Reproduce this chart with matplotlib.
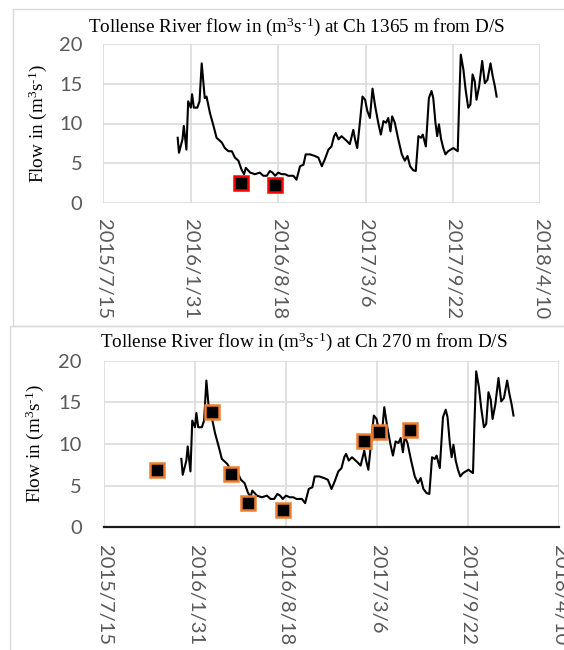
import matplotlib
matplotlib.use("Agg")
import matplotlib.pyplot as plt
from matplotlib.patches import Rectangle
import pandas as pd

# Daily river flow record (days after series_start, m3/s)
series_start = "2016-01-01"
flow_day = [0, 3, 11, 14, 20, 24, 30, 33, 37, 45, 50, 55, 59, 62, 66, 74, 82, 89,
            101, 108, 116, 124, 131, 139, 146, 152, 156, 166, 177, 188, 196, 204,
            211, 217, 223, 230, 238, 246, 253, 265, 272, 280, 288, 293, 303, 314,
            322, 330, 337, 345, 352, 358, 362, 368, 375, 379, 387, 394, 402, 406,
            411, 417, 423, 429, 434, 440, 446, 452, 459, 465, 471, 477, 482, 487,
            491, 497, 505, 513, 520, 526, 532, 539, 545, 551, 557, 561, 568, 575,
            581, 585, 590, 594, 598, 603, 608, 613, 619, 625, 631, 636, 641, 644,
            648, 654, 659, 665, 670, 675, 680, 684, 690, 697, 703, 709, 716, 721,
            726, 730]
flow_value = [8.2, 6.3, 8.0, 9.7, 6.7, 12.8, 12.0, 13.7, 12.0, 12.0, 12.8, 17.6,
              15.1, 13.2, 13.4, 11.3, 9.7, 8.2, 7.6, 6.9, 6.5, 6.5, 5.7, 5.3, 4.2,
              3.6, 4.4, 3.8, 3.6, 3.8, 3.4, 3.4, 4.0, 3.8, 3.4, 3.8, 3.6, 3.6, 3.4,
              3.4, 2.9, 4.6, 4.8, 6.1, 6.1, 5.9, 5.7, 4.6, 5.5, 6.7, 7.1, 8.4, 8.8,
              8.0, 8.4, 8.2, 7.8, 7.4, 9.2, 8.0, 6.9, 10.1, 13.4, 13.0, 11.6, 10.7,
              14.4, 12.2, 10.1, 8.6, 10.3, 10.1, 10.7, 9.0, 10.9, 10.1, 8.0, 6.1,
              5.3, 5.9, 4.6, 4.1, 4.0, 8.4, 8.2, 8.6, 7.1, 13.2, 14.1, 13.2, 10.1,
              8.4, 9.9, 8.0, 6.9, 6.1, 6.5, 6.7, 6.9, 6.7, 6.5, 12.2, 18.7, 16.8,
              14.3, 12.0, 12.4, 16.2, 15.3, 13.0, 14.7, 17.9, 15.1, 15.5, 17.6,
              16.0, 14.7, 13.4]

# Measured flows at the two chainages
obs_1365_date = ["2016-05-25", "2016-08-10"]
obs_1365_value = [2.45, 2.2]
obs_270_date = ["2015-11-09", "2016-03-09", "2016-04-20", "2016-05-26",
                "2016-08-11", "2017-02-05", "2017-03-10", "2017-05-17"]
obs_270_value = [6.9, 13.8, 6.4, 2.9, 2.1, 10.3, 11.4, 11.7]

x_tick_dates = ["2015-07-15", "2016-01-31", "2016-08-18", "2017-03-06",
                "2017-09-22", "2018-04-10"]
x_tick_labels = ["2015/7/15", "2016/1/31", "2016/8/18", "2017/3/6",
                 "2017/9/22", "2018/4/10"]
y_ticks = [0, 5, 10, 15, 20]

plt.rcParams["mathtext.fontset"] = "stix"

W, H = 564, 650
fig = plt.figure(figsize=(W / 100, H / 100), dpi=100)

flow_dates = pd.Timestamp(series_start) + pd.to_timedelta(flow_day, unit="D")
tick_dates = pd.to_datetime(x_tick_dates)

SERIF = "Liberation Serif"
TICK_FONT = "Lato"
GRID = "#D9D9D9"
TICK_COLOR = "#595959"


def fx(px):
    return px / W


def fy(py):
    return 1 - py / H


# Chart-area frames
fig.patches.append(Rectangle((fx(13), fy(326)), 1.2, fy(9) - fy(326), fill=False,
                             ec=GRID, lw=1.0, transform=fig.transFigure,
                             clip_on=False, zorder=0))
fig.patches.append(Rectangle((fx(10), -0.2), 1.2, fy(326) + 0.2, fill=False,
                             ec=GRID, lw=1.0, transform=fig.transFigure,
                             clip_on=False, zorder=0))


def panel(rect, obs_dates, obs_values, edge, dark_axis, xpad, ypad):
    ax = fig.add_axes(rect)
    ax.plot(flow_dates, flow_value, color="black", lw=1.5, zorder=3)
    ax.plot(pd.to_datetime(obs_dates), obs_values, ls="none", marker="s",
            ms=10, mfc="black", mec=edge, mew=1.8, zorder=4, clip_on=False)
    ax.set_xlim(tick_dates[0], tick_dates[-1])
    ax.set_ylim(0, 20)
    ax.set_xticks(tick_dates)
    ax.set_xticklabels(x_tick_labels, rotation=-90, fontsize=14.5,
                       family=TICK_FONT, color=TICK_COLOR)
    ax.set_yticks(y_ticks)
    ax.set_yticklabels([str(v) for v in y_ticks], fontsize=14.5,
                       family=TICK_FONT, color=TICK_COLOR)
    ax.tick_params(axis="x", length=0, pad=xpad)
    ax.tick_params(axis="y", length=0, pad=ypad)
    ax.grid(True, color=GRID, lw=1.1)
    ax.set_axisbelow(True)
    for s in ax.spines.values():
        s.set_visible(False)
    if dark_axis:
        ax.spines["bottom"].set_visible(True)
        ax.spines["bottom"].set_color("#1a1a1a")
        ax.spines["bottom"].set_linewidth(1.6)
        ax.spines["bottom"].set_zorder(5)
    return ax


panel([fx(103.4), fy(202.7), (540.3 - 103.4) / W, (202.7 - 44.3) / H],
      obs_1365_date, obs_1365_value, "#FF0000", False, 12, 15)
panel([fx(104), fy(527.3), (559 - 104) / W, (527.3 - 360.5) / H],
      obs_270_date, obs_270_value, "#ED7D31", True, 13, 16)

unit = r"(m$\mathregular{^{3}}$s$\mathregular{^{\text{-}1}}$)"
fig.text(fx(297), fy(27), "Tollense River flow in " + unit + " at Ch 1365 m from D/S",
         ha="center", va="center", fontsize=13.8, family=SERIF)
fig.text(fx(303.6), fy(342), "Tollense River flow in " + unit + " at Ch 270 m from D/S",
         ha="center", va="center", fontsize=13.8, family=SERIF)
fig.text(fx(38), fy(123.5), "Flow in " + unit, rotation=90, ha="center",
         va="center", fontsize=13.8, family=SERIF)
fig.text(fx(35), fy(443.9), "Flow in " + unit, rotation=90, ha="center",
         va="center", fontsize=13.8, family=SERIF)

fig.savefig("out.png", dpi=100)
